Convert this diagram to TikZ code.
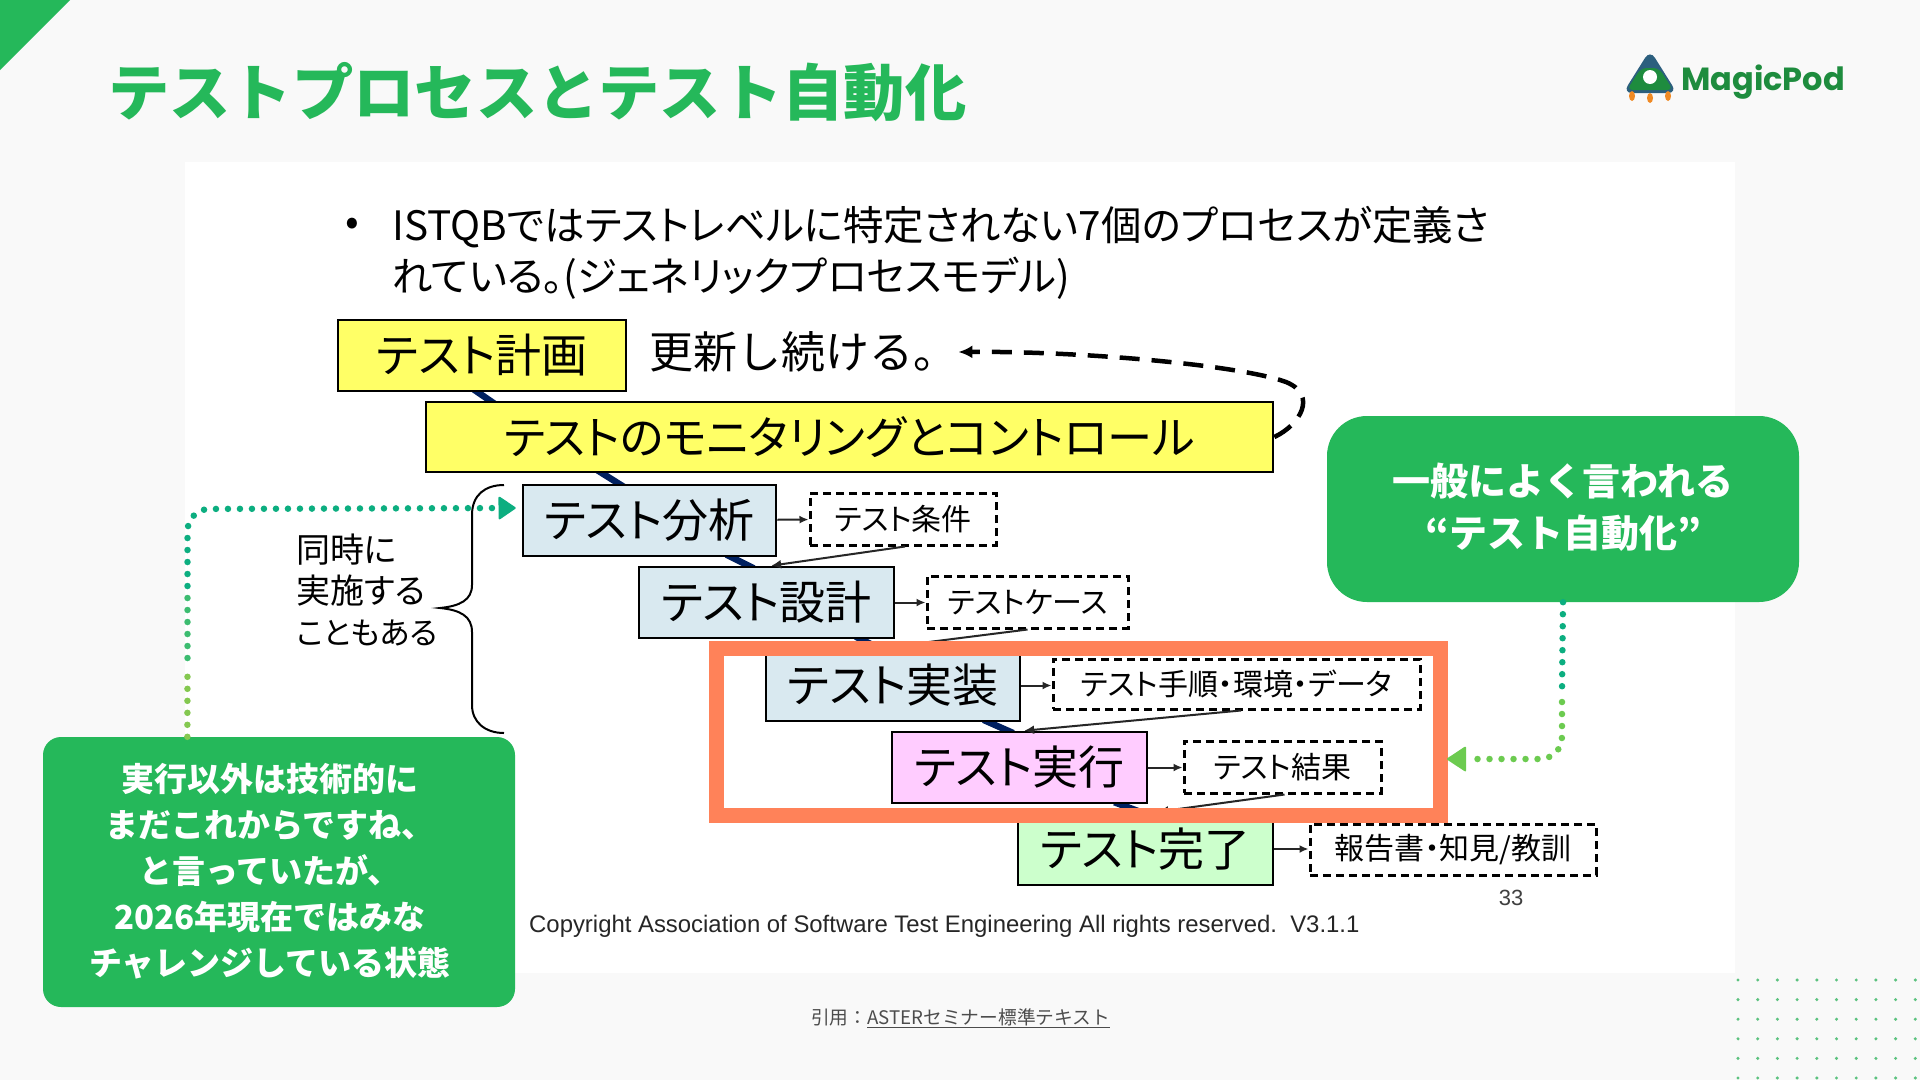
\documentclass[tikz,border=0pt]{standalone}
\usepackage{fontspec}
\setmainfont{Noto Sans CJK JP}
\newfontfamily\paltfont[RawFeature=+palt]{Noto Sans CJK JP}
\newfontfamily\arialfont{Liberation Sans}
\newfontfamily\logofont{Poppins}
\usepackage{xcolor}
\usetikzlibrary{arrows.meta,calc,positioning,backgrounds}
\definecolor{slidegray}{HTML}{F9F9F9}
\definecolor{slidegreen}{HTML}{25B85A}
\definecolor{logogreen}{HTML}{1E8C3E}
\definecolor{logoblue}{HTML}{2C5F7E}
\definecolor{logoorange}{HTML}{F08A24}
\definecolor{dotgreen}{HTML}{5CC27F}
\definecolor{dotlight}{HTML}{84C850}
\definecolor{dotmid}{HTML}{3CBC70}
\definecolor{dotteal}{HTML}{0CAE80}
\definecolor{arrowlight}{HTML}{6CCB50}
\definecolor{framecoral}{HTML}{FF8259}
\definecolor{stageyellow}{HTML}{FFFF66}
\definecolor{stageblue}{HTML}{D9E9F0}
\definecolor{stagepink}{HTML}{FFCCFF}
\definecolor{stagegreen}{HTML}{CCFFCC}
\definecolor{flownavy}{HTML}{002060}
\tikzset{
  stagebox/.style={draw=black,line width=2.6pt,inner sep=0pt,align=center,font=\paltfont\fontsize{46}{50}\selectfont},
  workbox/.style={draw=black,line width=3pt,dash pattern=on 8pt off 5pt,fill=white,inner sep=0pt,align=center,font=\paltfont\fontsize{30}{34}\selectfont},
  flowline/.style={line width=6.5pt,flownavy,shorten <=-6pt,shorten >=-6pt},
  feedline/.style={-{Latex[length=9pt,width=8pt]},line width=2pt,black!85},
  backline/.style={-{Latex[length=10pt,width=9pt]},line width=2pt,black!85},
  dotflow/.style={line width=6.5pt,line cap=round,dash pattern=on 0pt off 12pt},
  callout/.style={fill=slidegreen,text=white,inner sep=0pt,align=center},
  bodytext/.style={inner sep=0pt,anchor=west,font=\paltfont\fontsize{40.5}{46}\selectfont}
}
\begin{document}
\begin{tikzpicture}[x=1pt,y=-1pt]
  \useasboundingbox (0,0) rectangle (1920,1080);
  \begin{scope}[on background layer]
    \fill[slidegray] (0,0) rectangle (1920,1080);
    \fill[slidegreen] (0,0) -- (70,0) -- (0,70) -- cycle;
    \fill[white] (185,162) rectangle (1735,973);
  \end{scope}
  \node[inner sep=0pt,anchor=west,text=slidegreen,font=\fontsize{61.3}{70}\selectfont\bfseries] (title) at (108,92) {テストプロセスとテスト自動化};

  \fill[logoblue,rounded corners=9pt] (1650,50) -- (1677,93) -- (1623,93) -- cycle;
  \fill[logogreen,rounded corners=6pt] (1641,68) -- (1659,68) -- (1673,90) -- (1627,90) -- cycle;
  \fill[white] (1650,77) circle (7);
  \fill[logoorange] (1632,96) ellipse (3 and 5) (1650,98) ellipse (3 and 5) (1668,96) ellipse (3 and 5);
  \node[inner sep=0pt,anchor=west,text=logogreen,font=\logofont\fontsize{32}{40}\selectfont\bfseries] (logo) at (1681,82) {MagicPod};

  \node[bodytext] (bullet) at (345,227) {•};
  \node[bodytext] (line one) at (392,227) {ISTQBではテストレベルに特定されない7個のプロセスが定義さ};
  \node[bodytext] (line two) at (392,278) {れている。(ジェネリックプロセスモデル)};
  \node[inner sep=0pt,anchor=west,font=\fontsize{44}{50}\selectfont] (update) at (649,352) {更新し続ける。};

  \node[stagebox,fill=stageyellow,minimum width=288pt,minimum height=71pt] (plan) at (482,355.5) {テスト計画};
  \node[stagebox,fill=stageyellow,minimum width=847pt,minimum height=70pt,font=\paltfont\fontsize{45.2}{50}\selectfont] (monitor) at (849.5,437) {テストのモニタリングとコントロール};
  \node[stagebox,fill=stageblue,minimum width=253pt,minimum height=71pt] (analysis) at (649.5,520.5) {テスト分析};
  \node[stagebox,fill=stageblue,minimum width=255pt,minimum height=71pt] (design) at (766.5,602.5) {テスト設計};
  \node[stagebox,fill=stageblue,minimum width=254pt,minimum height=71pt] (build) at (893,685.5) {テスト実装};
  \node[stagebox,fill=stagepink,minimum width=255pt,minimum height=71pt] (run) at (1019.5,767.5) {テスト実行};
  \node[stagebox,fill=stagegreen,minimum width=255pt,minimum height=72pt] (finish) at (1145.5,849) {テスト完了};

  \node[workbox,minimum width=186pt,minimum height=52pt] (condition) at (903,519) {テスト条件};
  \node[workbox,minimum width=201pt,minimum height=52pt] (testcase) at (1027.5,602) {テストケース};
  \node[workbox,minimum width=367pt,minimum height=50pt] (procedure) at (1236.5,684) {テスト手順・環境・データ};
  \node[workbox,minimum width=197pt,minimum height=52pt] (result) at (1282.5,767) {テスト結果};
  \node[workbox,minimum width=286pt,minimum height=51pt] (report) at (1453,849.5) {報告書・知見/教訓};

  \begin{scope}[on background layer]
    \draw[flowline] ($(plan.south west)!0.486!(plan.south east)$) -- ($(monitor.north west)!0.077!(monitor.north east)$);
    \draw[flowline] ($(monitor.south west)!0.209!(monitor.south east)$) -- ($(analysis.north west)!0.38!(analysis.north east)$);
    \draw[flowline] ($(analysis.south west)!0.822!(analysis.south east)$) -- ($(design.north west)!0.43!(design.north east)$);
    \draw[flowline] ($(design.south west)!0.867!(design.south east)$) -- ($(build.north west)!0.45!(build.north east)$);
    \draw[flowline] ($(build.south west)!0.874!(build.south east)$) -- ($(run.north west)!0.455!(run.north east)$);
    \draw[flowline] ($(run.south west)!0.89!(run.south east)$) -- ($(finish.north west)!0.478!(finish.north east)$);
  \end{scope}

  \draw[feedline] (analysis) -- (condition);
  \draw[feedline] (design.east) -- (design.east -| testcase.west);
  \draw[feedline] (build.east) -- (build.east -| procedure.west);
  \draw[feedline] (run.east) -- (run.east -| result.west);
  \draw[feedline] (finish.east) -- (finish.east -| report.west);

  \draw[backline] ($(condition.south west)!0.51!(condition.south east)$) -- ($(design.north west)!0.518!(design.north east)$);
  \draw[backline] ($(testcase.south west)!0.5!(testcase.south east)$) -- ($(build.north west)!0.433!(build.north east)$);
  \draw[backline] ($(procedure.south west)!0.512!(procedure.south east)$) -- ($(run.north west)!0.518!(run.north east)$);
  \draw[backline] ($(result.south west)!0.51!(result.south east)$) -- ($(finish.north west)!0.55!(finish.north east)$);

  \draw[-{Latex[length=14pt,width=13pt]},line width=4.5pt,dash pattern=on 20pt off 12pt] (monitor.east) .. controls (1300,425) and (1318,395) .. (1286,382) .. controls (1240,365) and (1080,351) .. ($(update.east)+(1,0)$);

  \draw[line width=2pt] (504,485) .. controls (485,485) and (472,495) .. (472,515) -- (472,585) .. controls (472,600) and (460,606) .. (440,608) .. controls (460,610) and (472,616) .. (472,632) -- (472,705) .. controls (472,722) and (485,733) .. (504,733);
  \node[inner sep=0pt,anchor=west,align=left,font=\paltfont\fontsize{34}{41}\selectfont] (together) at (296,590) {同時に\\実施する\\{\fontsize{31}{41}\selectfont こともある}};

  \node[inner sep=0pt,anchor=west,font=\arialfont\fontsize{23.9}{28}\selectfont,text=black!85] (copyright) at (529,926) {Copyright Association of Software Test Engineering All rights reserved.\ \ V3.1.1};
  \node[inner sep=0pt,font=\arialfont\fontsize{22}{26}\selectfont,text=black!75] (page) at (1511,898) {33};

  \draw[framecoral,line width=15pt] (716.5,648.5) rectangle (1440,815);

  \node[callout,rounded corners=40pt,minimum width=472pt,minimum height=186pt] (general) at (1563,509) {};
  \node[inner sep=0pt,text=white,align=center,font=\fontsize{38}{52}\selectfont\bfseries] (general text) at (1563,507) {一般によく言われる\\“テスト自動化”};
  \node[callout,rounded corners=18pt,minimum width=472pt,minimum height=270pt] (mostly) at (279,872) {};
  \node[inner sep=0pt,text=white,align=center,font=\fontsize{33}{46}\selectfont\bfseries] (mostly text) at (270,871) {実行以外は技術的に\\まだこれからですね、\\と言っていたが、\\2026年現在ではみな\\チャレンジしている状態};

  \coordinate (left turn) at (187.5,509);
  \coordinate (right turn) at (1562,759);
  \draw[dotflow,dotlight] ($(mostly.north west)!0.306!(mostly.north east)$) -- (187.5,670);
  \draw[dotflow,dotmid] (187.5,658) -- (187.5,598);
  \draw[dotflow,dotteal,rounded corners=22pt,-{Triangle[length=18pt,width=24pt,round,line width=2pt]}] (187.5,586) -- (left turn) -- ($(analysis.north west)!0.33!(analysis.south west)+(-6,0)$);
  \draw[dotflow,dotteal] (general.south) -- (1562,690);
  \draw[dotflow,arrowlight,rounded corners=22pt,-{Triangle[length=20pt,width=26pt,round,line width=2pt]}] (1562,702) -- (right turn) -- (1447,759);

  \foreach \i in {0,...,9}
    \foreach \j in {0,...,5}
      \fill[dotgreen] (1738+19.7*\i,980+19.6*\j) circle (1.7);

  \node[inner sep=0pt,anchor=west,text=black!70,font=\fontsize{18.7}{24}\selectfont] (source) at (811,1018) {引用：\underline{ASTERセミナー標準テキスト}};
\end{tikzpicture}
\end{document}
